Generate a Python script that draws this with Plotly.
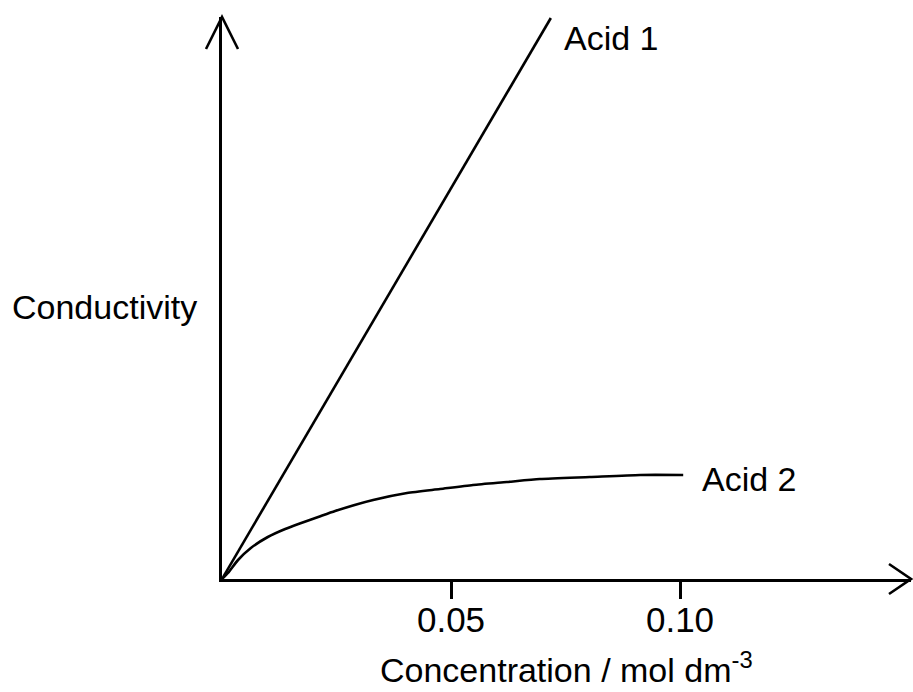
import plotly.graph_objects as go

# ---- data ----
acid1_x = [0.0, 0.0718]
acid1_y = [0.0, 56.1]

acid2_x = [0.0, 0.0013, 0.0035, 0.0063, 0.0100, 0.0138, 0.0173, 0.0210, 0.0247,
           0.0330, 0.0404, 0.0476, 0.0548, 0.0622, 0.0694, 0.0803, 0.0913, 0.1007]
acid2_y = [0.0, 0.6, 1.9, 3.1, 4.2, 5.0, 5.6, 6.2, 6.8,
           7.9, 8.6, 9.0, 9.4, 9.7, 10.0, 10.2, 10.4, 10.4]

tick_vals = [0.05, 0.10]
tick_text = ["0.05", "0.10"]

series_names = ["Acid 1", "Acid 2"]
x_title = "Concentration / mol dm<sup>-3</sup>"
y_title = "Conductivity"

# ---- layout geometry (pixels) ----
W, H = 913, 692
ML, MR, MT, MB = 222, 2, 17, 113
PW, PH = W - ML - MR, H - MT - MB
X_MAX = PW * 0.1 / 458
Y_MAX = PH / 10.0

FONT = "Liberation Sans, Arial, sans-serif"
LW = 2.6

fig = go.Figure()
fig.add_trace(go.Scatter(x=acid1_x, y=acid1_y, mode="lines", name=series_names[0],
                         line=dict(color="black", width=LW), cliponaxis=False))
fig.add_trace(go.Scatter(x=acid2_x, y=acid2_y, mode="lines", name=series_names[1],
                         line=dict(color="black", width=LW, shape="spline", smoothing=0.6),
                         cliponaxis=False))

def px(dx):
    return dx / PW

def py(dy):
    return dy / PH

shapes = [
    # y-axis arrowhead
    dict(type="path", xref="paper", yref="paper",
         path=f"M {px(-16)},{1 - py(32)} L 0,1 L {px(16)},{1 - py(32)}",
         line=dict(color="black", width=LW)),
    # x-axis arrowhead
    dict(type="path", xref="paper", yref="paper",
         path=f"M {1 - px(22)},{py(15)} L 1,0 L {1 - px(22)},{py(-15)}",
         line=dict(color="black", width=LW)),
]

annotations = [
    dict(x=acid1_x[-1], y=acid1_y[-1], xref="x", yref="y", text=series_names[0],
         showarrow=False, xanchor="left", yanchor="middle", xshift=11, yshift=-20,
         font=dict(family=FONT, size=34, color="black")),
    dict(x=acid2_x[-1], y=acid2_y[-1], xref="x", yref="y", text=series_names[1],
         showarrow=False, xanchor="left", yanchor="middle", xshift=17, yshift=-4,
         font=dict(family=FONT, size=34, color="black")),
    dict(x=0, y=(579 - 307) / PH, xref="paper", yref="paper", text=y_title,
         showarrow=False, xanchor="right", yanchor="middle", xshift=-23,
         font=dict(family=FONT, size=34, color="black")),
    dict(x=0.5, y=(579 - 667) / PH, xref="paper", yref="paper", text=x_title,
         showarrow=False, xanchor="center", yanchor="middle",
         font=dict(family=FONT, size=34, color="black")),
]

fig.update_layout(
    width=W, height=H,
    margin=dict(l=ML, r=MR, t=MT, b=MB, pad=0),
    paper_bgcolor="white", plot_bgcolor="white",
    showlegend=False,
    shapes=shapes, annotations=annotations,
    xaxis=dict(range=[0, X_MAX], showgrid=False, zeroline=False,
               showline=True, linecolor="black", linewidth=LW,
               tickmode="array", tickvals=tick_vals, ticktext=tick_text,
               ticks="outside", ticklen=17, tickwidth=LW, tickcolor="black",
               ticklabelstandoff=-9,
               tickfont=dict(family=FONT, size=35, color="black")),
    yaxis=dict(range=[0, Y_MAX], showgrid=False, zeroline=False,
               showline=True, linecolor="black", linewidth=LW,
               showticklabels=False, ticks=""),
)

fig.write_html("out.html", config={"displayModeBar": False},
               post_script="document.body.style.margin='0';document.body.style.overflow='hidden';")
